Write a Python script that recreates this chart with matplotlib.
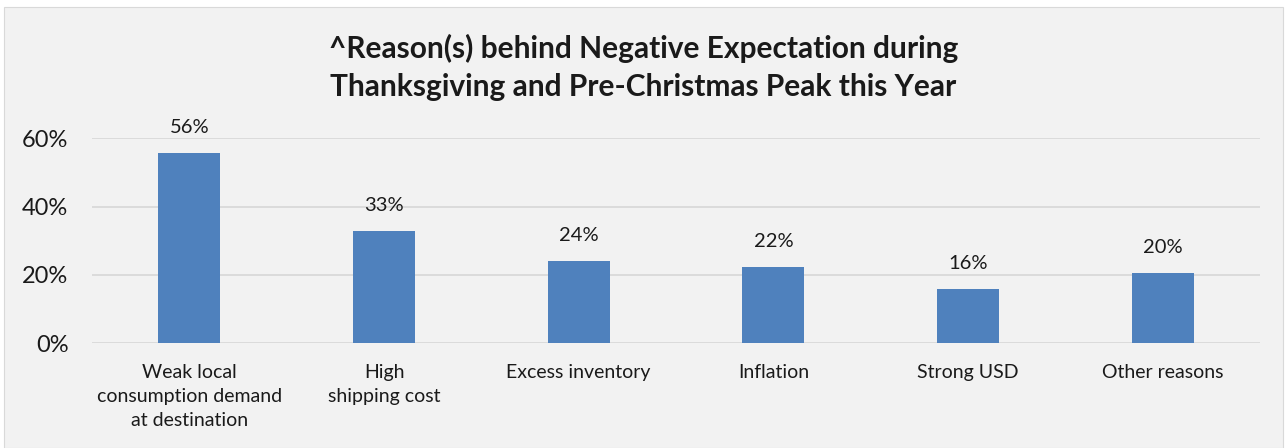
# Bar chart: reasons behind negative expectation for the peak season

import numpy as np
import matplotlib.pyplot as plt
from matplotlib.patches import Rectangle

categories = ["Weak local\nconsumption demand\nat destination", "High\nshipping cost",
              "Excess inventory", "Inflation", "Strong USD", "Other reasons"]
values = [55.6, 32.8, 24.0, 22.2, 15.8, 20.4]
labels = ["56%", "33%", "24%", "22%", "16%", "20%"]
yticks = [0, 20, 40, 60]

plt.rcParams['font.family'] = ['Lato', 'DejaVu Sans']

fig = plt.figure(figsize=(12.87, 4.48), dpi=100, facecolor='white')
bg = Rectangle((4/1287, 0), 1 - 8/1287, 1 - 7/448, transform=fig.transFigure,
               facecolor='#f2f2f2', edgecolor='#d9d9d9', linewidth=0.8, zorder=-10)
fig.patches.append(bg)
ax = fig.add_axes([92/1287, 1 - 343/448, 1168/1287, (343 - 138.3)/448])
ax.set_facecolor('none')
ax.set_zorder(5)

x = np.arange(len(categories))
ax.bar(x, values, width=0.32, color='#4f81bd', zorder=3)
for xi, v, lab in zip(x, values, labels):
    ax.text(xi, v + 7.6, lab, ha='center', va='center', fontsize=14.5, color='#1a1a1a')

ax.set_xlim(-0.5, len(categories) - 0.5)
ax.set_ylim(0, 60)
ax.set_yticks(yticks)
ax.set_yticklabels([f"{t}%" for t in yticks], fontsize=17, color='#1a1a1a')
ax.set_xticks(x)
ax.set_xticklabels(categories, fontsize=14, color='#1a1a1a', linespacing=1.5)
ax.tick_params(axis='both', length=0)
ax.tick_params(axis='y', pad=17)
ax.tick_params(axis='x', pad=15)
ax.grid(axis='y', color='#d9d9d9', linewidth=1.3, zorder=0)
for s in ax.spines.values():
    s.set_visible(False)

fig.text(0.5, 1 - 67.5/448, "^Reason(s) behind Negative Expectation during\nThanksgiving and Pre-Christmas Peak this Year",
         ha='center', va='center', fontsize=21.5, fontweight='bold', linespacing=1.45, color='#1a1a1a',
         zorder=6)

plt.savefig('out.png', dpi=100, facecolor=fig.get_facecolor())
